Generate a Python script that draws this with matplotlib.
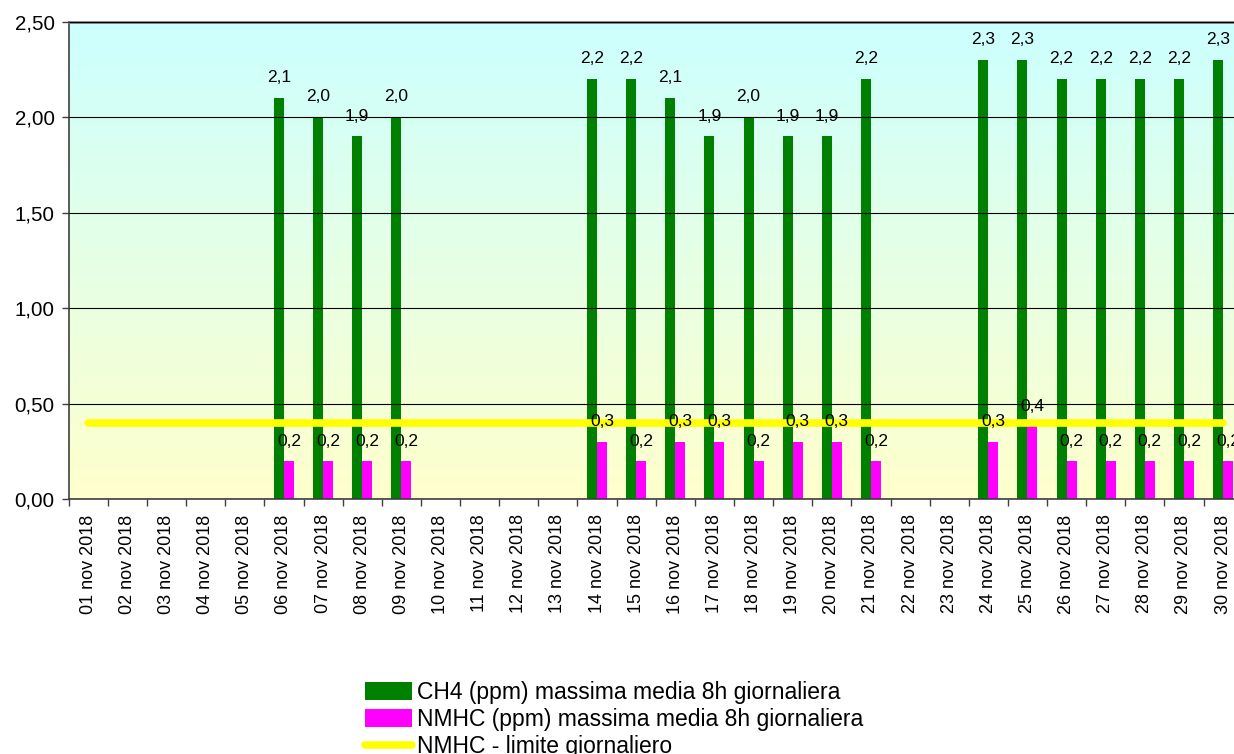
import matplotlib
matplotlib.use("Agg")
import matplotlib.pyplot as plt
import numpy as np
from matplotlib.patches import Patch
from matplotlib.lines import Line2D
from matplotlib.colors import LinearSegmentedColormap

plt.rcParams['font.family'] = ['Liberation Sans', 'DejaVu Sans']

days = [f"{d:02d} nov 2018" for d in range(1, 31)]
ch4 = [None, None, None, None, None, 2.1, 2.0, 1.9, 2.0, None, None, None, None,
       2.2, 2.2, 2.1, 1.9, 2.0, 1.9, 1.9, 2.2, None, None,
       2.3, 2.3, 2.2, 2.2, 2.2, 2.2, 2.3]
nmhc = [None, None, None, None, None, 0.2, 0.2, 0.2, 0.2, None, None, None, None,
        0.3, 0.2, 0.3, 0.3, 0.2, 0.3, 0.3, 0.2, None, None,
        0.3, 0.38, 0.2, 0.2, 0.2, 0.2, 0.2]
limit = [0.4] * 30

lab_ch4 = "CH4 (ppm) massima media 8h giornaliera"
lab_nmhc = "NMHC (ppm) massima media 8h giornaliera"
lab_lim = "NMHC - limite giornaliero"

W, H = 1234, 754
fig = plt.figure(figsize=(W / 100, H / 100), dpi=100)
ax = fig.add_axes([68.7 / W, 1 - 499 / H, (1242.7 - 68.7) / W, (499 - 22) / H])

# gradient background
cmap = LinearSegmentedColormap.from_list("bg", ["#FFFFCC", "#CCFFFF"])
grad = np.linspace(0, 1, 256).reshape(-1, 1)
ax.imshow(grad, cmap=cmap, aspect='auto', extent=[0, 1, 0, 1], origin='lower',
          transform=ax.transAxes, zorder=0)

x = np.arange(30)
bw = 0.255
green = "#008000"
mag = "#FF00FF"
gx = [i for i, v in enumerate(ch4) if v is not None]
gv = [v for v in ch4 if v is not None]
mx = [i for i, v in enumerate(nmhc) if v is not None]
mv = [v for v in nmhc if v is not None]
ax.bar(np.array(gx) - bw / 2, gv, width=bw, color=green, zorder=2)
ax.bar(np.array(mx) + bw / 2, mv, width=bw, color=mag, zorder=2)
ax.plot(x, limit, color="#FFFF00", lw=5.5, solid_capstyle='round', zorder=3)

def fmt(v):
    return f"{v:.1f}".replace('.', ',')

for i, v in zip(gx, gv):
    ax.annotate(fmt(v), (i - bw / 2, v), xytext=(0, 11.5), textcoords='offset points',
                ha='center', va='baseline', fontsize=12.5, zorder=4, annotation_clip=False)
for i, v in zip(mx, mv):
    ax.annotate(fmt(v), (i + bw / 2, v), xytext=(0, 11), textcoords='offset points',
                ha='center', va='baseline', fontsize=12.5, zorder=4, annotation_clip=False)

ax.set_xlim(-0.5, 29.5)
ax.set_ylim(0, 2.5)
yt = np.arange(0, 2.51, 0.5)
ax.set_yticks(yt)
ax.set_yticklabels([f"{v:.2f}".replace('.', ',') for v in yt], fontsize=14.8)
ax.yaxis.grid(True, color='black', lw=0.8, zorder=1)
ax.set_axisbelow(False)

ax.set_xticks(np.arange(-0.5, 30, 1))
ax.set_xticklabels([])
ax.set_xticks(x, minor=True)
ax.set_xticklabels(days, minor=True, rotation=90, fontsize=13, va='top', ha='center')
ax.tick_params(axis='x', which='minor', length=0, pad=11)
ax.tick_params(axis='x', which='major', length=5, width=1, color='#404040', direction='out')
ax.tick_params(axis='y', length=5, width=1, color='#404040', pad=5, direction='out')

for s in ['left', 'bottom']:
    ax.spines[s].set_color('#404040')
    ax.spines[s].set_linewidth(1.2)
ax.spines['top'].set_color('#808080')
ax.spines['top'].set_linewidth(2)
ax.spines['right'].set_visible(False)

handles = [Patch(facecolor=green, edgecolor='none'),
           Patch(facecolor=mag, edgecolor='none'),
           Line2D([0], [0], color="#FFFF00", lw=5.5, solid_capstyle='round')]
fig.legend(handles, [lab_ch4, lab_nmhc, lab_lim], loc='upper left',
           bbox_to_anchor=(365 / W, 1 - 681 / H), frameon=False, fontsize=16.5,
           borderpad=0, borderaxespad=0, handlelength=2.05, handleheight=0.8,
           handletextpad=0.2, labelspacing=0.18)

fig.savefig("out.png", dpi=100)
